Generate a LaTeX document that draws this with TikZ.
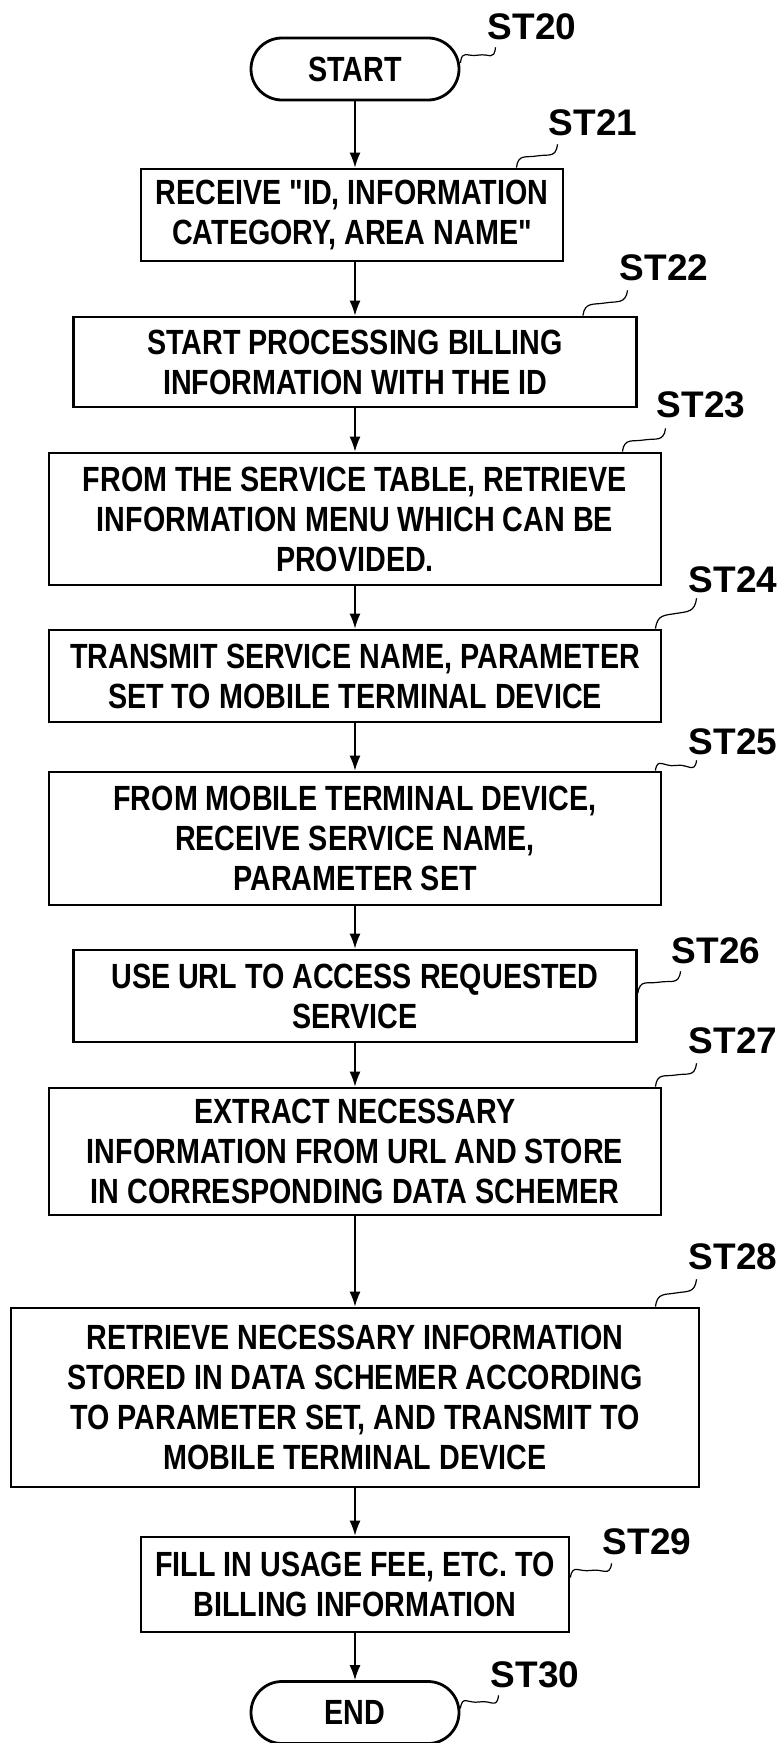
\documentclass[tikz,border=0pt]{standalone}
\usepackage{fontspec}
\setmainfont{Liberation Sans}
\newfontfamily\narrowfont{Liberation Sans}[FakeStretch=0.82]
\usetikzlibrary{arrows.meta,calc}

\newcommand{\boxfont}{\narrowfont\bfseries\fontsize{35}{40}\selectfont}
\newcommand{\labelfont}{\bfseries\fontsize{37}{40}\selectfont}

\begin{document}
\begin{tikzpicture}
        [
            x = 1pt, y = 1pt,
            stepbox/.style = {draw, line width = 2.8pt, align = center, inner sep = 0pt, font = \boxfont},
            terminal/.style = {stepbox, rounded corners = 31pt, minimum width = 208pt, minimum height = 62pt},
            steplabel/.style = {font = \labelfont, inner sep = 0pt},
            flow/.style = {-{Latex[length = 15pt, width = 11pt]}, line width = 1.4pt},
            squiggle/.style = {line width = 1.2pt, to path = {
                .. controls +(2,14) and +(-12,-2) .. ($(\tikztostart)!.5!(\tikztotarget)$)
                .. controls +(12,2) and +(-2,-14) .. (\tikztotarget)}}
        ]
        \useasboundingbox (0,0) rectangle (777,-1743);

        \node[terminal] (st20) at (355,-69) {START};
        \node[stepbox, minimum width = 422pt, minimum height = 92pt] (st21) at (352,-215) 
            {RECEIVE "ID, INFORMATION\\CATEGORY, AREA NAME"};
        \node[stepbox, minimum width = 563pt, minimum height = 90pt] (st22) at (355,-362)
            {START PROCESSING BILLING\\INFORMATION WITH THE ID};
        \node[stepbox, minimum width = 612pt, minimum height = 132pt] (st23) at (355,-519)
            {FROM THE SERVICE TABLE, RETRIEVE\\INFORMATION MENU WHICH CAN BE\\PROVIDED.};
        \node[stepbox, minimum width = 612pt, minimum height = 92pt] (st24) at (355,-676)
            {TRANSMIT SERVICE NAME, PARAMETER\\SET TO MOBILE TERMINAL DEVICE};
        \node[stepbox, minimum width = 612pt, minimum height = 133pt] (st25) at (355,-838.5)
            {FROM MOBILE TERMINAL DEVICE,\\RECEIVE SERVICE NAME,\\PARAMETER SET};
        \node[stepbox, minimum width = 563pt, minimum height = 92pt] (st26) at (355,-996)
            {USE URL TO ACCESS REQUESTED\\SERVICE};
        \node[stepbox, minimum width = 612pt, minimum height = 127pt] (st27) at (355,-1151.5)
            {EXTRACT NECESSARY\\INFORMATION FROM URL AND STORE\\IN CORRESPONDING DATA SCHEMER};
        \node[stepbox, minimum width = 688pt, minimum height = 179pt] (st28) at (355,-1397.5)
            {RETRIEVE NECESSARY INFORMATION\\STORED IN DATA SCHEMER ACCORDING\\TO PARAMETER SET, AND TRANSMIT TO\\MOBILE TERMINAL DEVICE};
        \node[stepbox, minimum width = 428pt, minimum height = 95pt] (st29) at (355,-1584.5)
            {FILL IN USAGE FEE, ETC. TO\\BILLING INFORMATION};
        \node[terminal] (st30) at (355,-1712.5) {END};

        % step numbers
        \node[steplabel] (l20) at (532,-27) {ST20};
        \node[steplabel] (l21) at (593,-123) {ST21};
        \node[steplabel] (l22) at (664,-268) {ST22};
        \node[steplabel] (l23) at (701,-405) {ST23};
        \node[steplabel] (l24) at (733,-580) {ST24};
        \node[steplabel] (l25) at (733,-742) {ST25};
        \node[steplabel] (l26) at (716,-951) {ST26};
        \node[steplabel] (l27) at (733,-1041) {ST27};
        \node[steplabel] (l28) at (733,-1257) {ST28};
        \node[steplabel] (l29) at (647,-1542) {ST29};
        \node[steplabel] (l30) at (535,-1675) {ST30};

        \draw[flow] (st20) -- (st20 |- st21.north);
        \draw[flow] (st21.south -| st20) -- (st22);
        \draw[flow] (st22) -- (st23);
        \draw[flow] (st23) -- (st24);
        \draw[flow] (st24) -- (st25);
        \draw[flow] (st25) -- (st26);
        \draw[flow] (st26) -- (st27);
        \draw[flow] (st27) -- (st28);
        \draw[flow] (st28) -- (st29);
        \draw[flow] (st29) -- (st30);

        \draw[squiggle] ([yshift = 6pt]st20.east) to ([shift = {(8pt,-7pt)}]l20.south west);
        \draw[squiggle] ([xshift = -48pt]st21.north east) to ([shift = {(9pt,-8pt)}]l21.south west);
        \draw[squiggle] ([xshift = -55pt]st22.north east) to ([shift = {(8pt,-9pt)}]l22.south west);
        \draw[squiggle] ([xshift = -40pt]st23.north east) to ([shift = {(9pt,-10pt)}]l23.south west);
        \draw[squiggle] ([xshift = -7pt]st24.north east) to ([shift = {(8pt,-5pt)}]l24.south west);
        \draw[squiggle] ([xshift = -7pt]st25.north east) to ([shift = {(8pt,-5pt)}]l25.south west);
        \draw[squiggle] ([yshift = 3pt]st26.east) to ([shift = {(9pt,-7pt)}]l26.south west);
        \draw[squiggle] ([xshift = -7pt]st27.north east) to ([shift = {(8pt,-9pt)}]l27.south west);
        \draw[squiggle] ([xshift = -45pt]st28.north east) to ([shift = {(8pt,-9pt)}]l28.south west);
        \draw[squiggle] ([yshift = 7pt]st29.east) to ([shift = {(9pt,-8pt)}]l29.south west);
        \draw[squiggle] ([yshift = 4pt]st30.east) to ([shift = {(8pt,-7pt)}]l30.south west);
\end{tikzpicture}
\end{document}
